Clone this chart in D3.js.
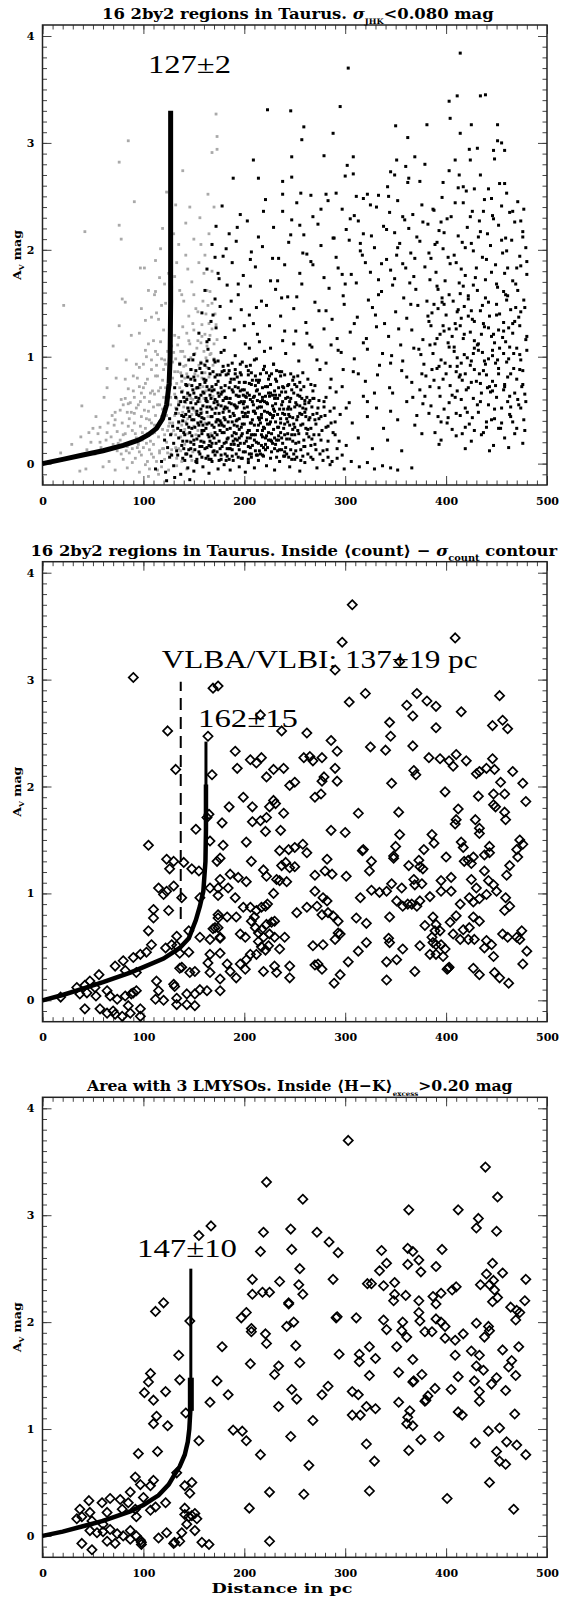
<!DOCTYPE html>
<html><head><meta charset="utf-8">
<script src="https://cdn.jsdelivr.net/npm/d3@7"></script>
<style>body{margin:0;background:#fff} svg{display:block} text{white-space:pre}</style>
</head><body>
<script>
// ---------------- DATA ----------------
const xTicks=[0,100,200,300,400,500];
const yTicks=[0,1,2,3,4];

// Panel 1 : stars closer than the fitted distance (grey) and beyond (black)
const panel1Gray=[[85,3.02],[76,2.82],[139,2.74],[123,2.54],[132,2.42],[91,2.45],[76,2.23],[78,2.10],[42,2.17],[117,2.01],[101,1.83],[97,1.83],[116,1.74],[121,1.68],[112,1.61],[111,1.58],[21,1.48],[79,1.54],[82,1.51],[102,1.34],[76,1.29],[108,1.37],[113,1.41],[118,1.48],[128,1.52],[102,1.06],[93,0.93],[83,0.97],[64,0.89],[73,0.80],[82,0.79],[78,0.60],[85,0.56],[61,0.62],[64,0.71],[39,0.54],[53,0.44],[69,0.45],[38,0.25],[29,0.18],[18,0.10],[46,0.29],[57,0.34],[37,-0.07],[43,-0.05],[84,0.16],[100,0.15],[172,3.27],[173,3.06],[168,2.91],[173,2.94],
[96,1.22],[105,1.12],[112,1.05],[118,0.98],[122,0.93],[128,1.1],[132,0.98],[135,1.18],[139,1.05],[142,0.92],[146,1.12],[150,1.25],[154,1.15],[158,1.3],[162,1.4],[166,1.2],[152,1.45],[145,1.38],[140,1.52],[136,1.62],[148,1.7],[155,1.88],[160,1.78],[142,1.95],[150,2.1],[156,2.3],[163,1.62],[168,1.5],[135,2.05],[131,1.75],[126,1.42],[120,1.25],[108,0.88],[114,0.82],[119,0.78],[102,0.75],[98,0.66],[91,0.62],[95,0.55],[88,0.48],[101,0.5],[106,0.58],[111,0.65],[116,0.55],[120,0.62],[124,0.72],[129,0.8],[133,0.75],[137,0.85],[141,0.8],[131,0.65],[135,0.58],[139,0.68],[143,0.62],[127,0.55],[112,0.45],[108,0.38],[103,0.42],[97,0.35],[92,0.28],[85,0.35],[79,0.38],[74,0.3],[68,0.25],[63,0.22],[70,0.18],[77,0.22],[82,0.28],[88,0.2],[94,0.15],[99,0.22],[104,0.28],[110,0.18],[115,0.25],[119,0.32],[123,0.2],[128,0.28],[126,0.38],[131,0.45],[135,0.38],[139,0.48],[132,0.15],[137,0.25],[141,0.32],[144,0.42],[146,0.52],[149,0.6],[152,0.7],[154,0.82],[157,0.95],[160,1.05],[163,0.9],[166,1.02],[170,1.12],[150,0.35],[152,0.48],[156,0.58],[159,0.72],[161,0.85],[86,0.1],[92,0.05],[98,0.08],[104,0.02],[110,0.06],[116,0.1],[121,0.04],[127,0.09],[80,0.04],[74,0.12],[66,0.02],[58,0.15],[52,0.09],[60,-0.03],[72,-0.06],[84,-0.04],[96,-0.08],[106,-0.05],[115,-0.1],[125,-0.06],[133,-0.02],[55,0.28],[48,0.2],[44,0.13],[65,0.38],[72,0.48],[80,0.55],[85,0.7],[90,0.82],[96,0.9],[103,1.0],[110,1.15],[115,1.35],[122,1.5],[128,1.65],[133,1.88],[142,2.25],[168,1.8],[170,2.4],[165,2.15],[172,1.3],[158,0.48],[161,0.38],[164,0.58],[167,0.7],
[86,0.42],[89,0.31],[93,0.52],[95,0.18],[98,0.44],[100,0.71],[102,0.33],[105,0.49],[107,0.21],[109,0.68],[111,0.36],[113,0.92],[114,0.55],[116,0.12],[117,0.71],[118,0.44],[120,0.88],[121,0.27],[123,0.61],[124,1.05],[125,0.35],[127,0.74],[128,0.13],[129,0.95],[130,0.31],[131,1.2],[132,0.52],[134,0.86],[135,0.14],[136,0.71],[137,1.05],[138,0.36],[140,0.91],[141,0.18],[142,0.57],[143,1.22],[144,0.28],[145,0.74],[147,0.99],[148,0.46],[149,0.11],[151,0.84],[153,1.08],[154,0.31],[156,0.71],[158,1.19],[159,0.21],[160,0.61],[162,0.99],[164,0.44],[165,1.31],[167,0.28],[169,0.92],[133,0.05],[138,0.02],[143,-0.05],[148,0.03],[118,-0.03],[124,0.1],[113,0.02],[106,0.13],[101,0.25],[96,0.72],[91,0.38],[84,0.48],[78,0.09],[71,0.36],[64,0.29],[57,0.2],[50,0.33],
[72,0.41],[75,0.19],[77,0.5],[80,0.27],[82,0.61],[83,0.12],[87,0.57],[89,0.14],[90,0.68],[91,0.47],[93,0.24],[94,0.8],[97,0.58],[99,0.29],[100,0.93],[101,0.62],[103,0.19],[104,0.79],[106,0.41],[107,0.66],[108,0.97],[109,0.28],[110,0.53],[112,0.82],[113,0.33],[114,1.02],[115,0.68],[116,0.39],[117,1.14],[119,0.51],[120,0.14],[121,0.97],[122,0.71],[123,0.45],[124,0.31],[125,0.84],[126,1.16],[127,0.62],[129,0.38],[130,1.04],[131,0.86],[132,0.27],[133,0.61],[134,1.11],[135,0.47],[136,0.94],[137,0.12],[138,0.77],[139,1.28],[140,0.53],[141,1.0],[142,0.39],[143,0.84],[144,0.65],[145,1.15],[146,0.21],[147,0.61],[148,0.88],[149,1.31],[150,0.5],[151,1.03],[152,0.27],[153,0.62],[154,1.42],[155,0.92],[156,0.44],[157,1.13],[158,0.8],[159,1.52],[160,0.93],[161,1.21],[162,0.68],[163,1.1],[164,1.48],[165,0.81],[166,1.61],[167,1.03],[168,1.26],[169,0.63],[170,0.98],[171,1.4],[172,0.74],[173,1.16],[96,0.11],[102,-0.01],[108,0.09],[114,-0.06],[119,0.14],[111,0.29],[89,0.01],[105,-0.12],
[105,1.62],[112,1.9],[125,1.78],[130,2.15],[138,1.58],[144,1.82],[150,1.58],[157,2.05],[161,1.95],[164,2.52],[146,2.4],[119,2.2],[98,1.45],[88,1.2],[70,1.1]];

const panel1Black=[[414,3.84],[303,3.70],[295,3.34],[223,3.31],[246,3.30],[403,3.39],[411,3.44],[434,3.44],[439,3.45],[350,3.16],[259,3.15],[381,3.17],[404,3.23],[425,3.17],[451,3.17],[288,3.09],[414,3.09],[362,3.05],[257,3.03],[451,3.02],[455,3.00],[458,2.93],[447,2.93],[423,2.94],[431,2.95],[409,2.84],[424,2.84],[448,2.85],[209,2.84],[247,2.87],[279,2.88],[308,2.87],[302,2.79],[351,2.84],[369,2.87],[379,2.80],[345,2.73],[349,2.70],[360,2.78],[363,2.67],[374,2.64],[403,2.74],[413,2.70],[434,2.70],[412,2.58],[417,2.59],[453,2.62],[458,2.62],[189,2.67],[214,2.67],[238,2.64],[247,2.68],[300,2.69],[308,2.71],[397,2.63],[342,2.59],[362,2.63],[420,2.55],[428,2.57],[442,2.57],[460,2.53],[238,2.52],[256,2.53],[266,2.51],[281,2.52],[291,2.53],[311,2.50],[322,2.52],[333,2.51],[343,2.50],
[178,2.41],[196,2.33],[221,2.47],[238,2.36],[252,2.44],[268,2.31],[283,2.46],[297,2.38],[309,2.32],[318,2.48],[331,2.40],[344,2.35],[352,2.46],[367,2.33],[376,2.42],[388,2.37],[396,2.49],[405,2.31],[417,2.44],[426,2.36],[438,2.47],[446,2.32],[455,2.41],[463,2.35],[471,2.45],[477,2.38],
[172,2.22],[185,2.15],[203,2.27],[214,2.12],[229,2.21],[247,2.28],[259,2.14],[273,2.24],[288,2.11],[301,2.19],[313,2.27],[326,2.13],[338,2.22],[349,2.16],[359,2.28],[371,2.12],[382,2.24],[393,2.18],[401,2.29],[412,2.13],[421,2.21],[433,2.27],[441,2.15],[452,2.23],[459,2.11],[468,2.26],[476,2.17],[363,2.20],[318,2.15],[432,2.12],[395,2.26],[447,2.29],
[168,2.05],[179,1.94],[192,2.08],[207,1.98],[218,2.03],[234,1.92],[244,2.07],[262,1.96],[276,2.04],[291,1.93],[304,2.09],[315,1.99],[329,2.02],[341,1.91],[354,2.06],[365,1.97],[374,2.08],[385,1.92],[397,2.01],[408,1.95],[416,2.07],[427,1.99],[436,1.93],[444,2.04],[456,1.97],[465,2.09],[473,1.94],[479,2.02],[389,2.05],[351,1.95],[402,1.93],[425,2.06],[460,1.99],
[163,1.82],[175,1.73],[188,1.88],[199,1.76],[211,1.84],[226,1.71],[240,1.86],[255,1.78],[266,1.89],[279,1.74],[293,1.83],[306,1.77],[320,1.88],[333,1.72],[345,1.81],[357,1.87],[368,1.75],[379,1.84],[390,1.79],[399,1.71],[410,1.88],[419,1.76],[430,1.83],[439,1.72],[449,1.86],[458,1.78],[466,1.71],[474,1.85],[480,1.77],[384,1.72],[415,1.82],[445,1.79],[470,1.83],[325,1.79],
[161,1.62],[171,1.54],[183,1.67],[194,1.58],[206,1.66],[217,1.52],[231,1.63],[243,1.56],[257,1.68],[270,1.51],[284,1.64],[298,1.57],[311,1.69],[323,1.53],[336,1.61],[347,1.67],[358,1.55],[370,1.63],[381,1.52],[391,1.66],[403,1.58],[413,1.69],[422,1.54],[431,1.62],[442,1.51],[451,1.65],[461,1.57],[469,1.68],[477,1.53],[396,1.55],[427,1.67],[457,1.61],[364,1.69],[407,1.52],
[158,1.41],[167,1.33],[176,1.47],[186,1.36],[197,1.44],[209,1.31],[222,1.48],[236,1.38],[249,1.45],[261,1.32],[274,1.43],[287,1.35],[299,1.49],[312,1.37],[327,1.46],[339,1.31],[350,1.42],[361,1.36],[372,1.48],[383,1.33],[392,1.45],[400,1.39],[409,1.31],[418,1.47],[426,1.35],[434,1.43],[443,1.38],[450,1.49],[457,1.32],[464,1.44],[472,1.37],[478,1.46],[386,1.41],[411,1.42],[437,1.31],[453,1.40],[468,1.33],[398,1.49],[422,1.38],
[155,1.22],[163,1.14],[172,1.27],[181,1.18],[190,1.25],[201,1.12],[213,1.21],[225,1.29],[238,1.15],[251,1.24],[265,1.11],[279,1.26],[292,1.17],[305,1.23],[318,1.13],[331,1.28],[343,1.19],[355,1.11],[366,1.25],[377,1.16],[385,1.29],[394,1.21],[402,1.13],[410,1.26],[417,1.17],[424,1.23],[431,1.11],[438,1.28],[445,1.19],[452,1.25],[459,1.14],[466,1.22],[473,1.29],[479,1.16],[389,1.12],[406,1.19],[428,1.15],[448,1.13],[462,1.27],[414,1.29],[398,1.24],[435,1.21],
[150,1.02],[157,0.94],[164,1.07],[170,0.97],[177,1.04],[184,0.92],[191,1.01],[198,0.95],[205,1.08],[212,0.98],[220,1.05],[229,0.93],[241,1.03],[254,0.96],[267,1.09],[281,0.94],[296,1.04],[309,0.98],[322,1.07],[334,0.92],[346,1.01],[357,0.96],[368,1.08],[378,0.93],[387,1.03],[395,0.97],[403,1.09],[411,0.91],[418,1.02],[425,0.96],[432,1.06],[439,0.93],[446,1.01],[453,1.08],[460,0.95],[467,1.03],[474,0.97],[480,1.06],[393,0.91],[408,1.05],[421,0.99],[436,1.04],[449,0.94],[463,1.09],[415,0.94],[428,1.08],[442,0.98],[457,1.03],
[138,0.82],[142,0.74],[147,0.88],[151,0.78],[154,0.71],[158,0.85],[161,0.76],[165,0.89],[168,0.72],[171,0.81],[174,0.77],[178,0.86],[181,0.73],[184,0.84],[187,0.79],[191,0.88],[194,0.71],[197,0.83],[200,0.76],[204,0.87],[207,0.74],[211,0.82],[215,0.78],[219,0.88],[223,0.72],[227,0.84],[232,0.77],[237,0.86],[243,0.73],[249,0.81],
[258,0.85],[266,0.74],[275,0.88],[286,0.79],[297,0.72],[308,0.86],[320,0.77],[332,0.83],[344,0.71],[356,0.87],[366,0.76],[376,0.84],[384,0.72],[391,0.89],[397,0.79],[404,0.73],[410,0.86],[416,0.78],[422,0.71],[428,0.88],[434,0.75],[440,0.83],[446,0.77],[452,0.89],[458,0.72],[464,0.84],[470,0.79],[476,0.74],[400,0.84],[413,0.81],[425,0.76],[437,0.87],[449,0.73],[461,0.81],[473,0.88],[388,0.78],[419,0.84],[443,0.72],
[132,0.62],[135,0.55],[138,0.67],[141,0.58],[144,0.52],[146,0.64],[149,0.69],[152,0.56],[155,0.61],[157,0.51],[160,0.66],[163,0.58],[166,0.53],[168,0.68],[171,0.6],[174,0.55],[177,0.65],[180,0.51],[182,0.62],[185,0.57],[188,0.69],[191,0.54],[194,0.63],[197,0.58],[200,0.52],[203,0.66],[206,0.6],[209,0.55],[212,0.68],[215,0.53],[218,0.62],[222,0.57],[226,0.66],[229,0.51],[233,0.61],[237,0.55],[241,0.67],[245,0.58],[250,0.53],[255,0.63],[260,0.56],[143,0.6],[162,0.61],[179,0.59],[196,0.68],[213,0.59],[231,0.64],
[268,0.61],[279,0.53],[291,0.67],[304,0.57],[318,0.63],[331,0.52],[347,0.66],[361,0.58],[374,0.69],[385,0.54],[394,0.63],[403,0.57],[411,0.68],[419,0.52],[427,0.61],[435,0.66],[442,0.55],[450,0.62],[457,0.69],[464,0.53],[471,0.6],[478,0.65],[398,0.51],[415,0.6],[431,0.55],[446,0.68],[461,0.58],[474,0.52],
[126,0.42],[129,0.35],[132,0.47],[135,0.39],[137,0.31],[140,0.44],[143,0.37],[145,0.49],[148,0.33],[150,0.41],[153,0.46],[155,0.36],[158,0.43],[160,0.31],[163,0.48],[165,0.38],[168,0.44],[170,0.34],[173,0.41],[175,0.47],[178,0.36],[180,0.43],[183,0.32],[185,0.49],[188,0.39],[190,0.45],[193,0.35],[195,0.42],[198,0.48],[200,0.37],[203,0.44],[205,0.31],[208,0.41],[211,0.47],[214,0.36],[217,0.43],[220,0.33],[223,0.48],[226,0.39],[229,0.45],[233,0.34],[236,0.42],[240,0.37],[244,0.46],[248,0.32],[252,0.41],[256,0.36],[261,0.44],[266,0.33],[139,0.4],[157,0.39],[176,0.4],[192,0.4],[207,0.38],[222,0.41],[238,0.47],
[274,0.42],[283,0.35],[295,0.46],[307,0.38],[322,0.44],[338,0.33],[352,0.41],[369,0.36],[383,0.47],[395,0.39],[406,0.32],[414,0.45],[423,0.37],[432,0.48],[440,0.34],[448,0.42],[455,0.38],[463,0.46],[470,0.33],[477,0.41],[402,0.43],[428,0.31],[452,0.33],[466,0.39],
[121,0.22],[124,0.15],[127,0.27],[130,0.19],[133,0.12],[135,0.24],[138,0.17],[140,0.29],[143,0.21],[145,0.13],[148,0.26],[150,0.18],[153,0.23],[155,0.11],[158,0.28],[160,0.2],[163,0.15],[165,0.25],[168,0.19],[170,0.12],[173,0.27],[175,0.21],[178,0.16],[180,0.29],[183,0.23],[185,0.14],[188,0.26],[190,0.18],[193,0.22],[195,0.13],[198,0.28],[200,0.19],[203,0.24],[206,0.15],[209,0.27],[212,0.2],[215,0.12],[218,0.25],[221,0.18],[224,0.29],[227,0.21],[230,0.14],[234,0.26],[238,0.19],[242,0.23],[246,0.13],[250,0.27],[254,0.2],[259,0.16],[264,0.25],[270,0.18],[276,0.22],[282,0.13],[147,0.2],[166,0.21],[182,0.2],[201,0.11],[217,0.17],[232,0.22],
[290,0.27],[301,0.17],[313,0.24],[327,0.14],[342,0.22],[356,0.12],[376,0.28],[393,0.18],[410,0.26],[425,0.21],[437,0.29],[447,0.17],[458,0.24],[468,0.28],[476,0.19],[419,0.14],[443,0.12],[462,0.15],
[112,-0.05],[118,0.02],[122,-0.08],[126,0.06],[130,-0.02],[134,0.08],[137,-0.1],[141,0.03],[144,-0.04],[147,0.07],[150,-0.07],[153,0.01],[156,0.09],[159,-0.03],[162,0.05],[165,-0.09],[168,0.02],[171,0.08],[174,-0.05],[177,0.04],[180,-0.01],[183,0.07],[186,-0.06],[189,0.03],[192,0.09],[195,-0.03],[198,0.05],[201,-0.08],[204,0.01],[207,0.06],[210,-0.04],[214,0.03],[218,0.08],[222,-0.02],[226,0.05],[230,-0.06],[235,0.02],[240,0.07],[245,-0.03],[250,0.04],[255,-0.07],[260,0.01],[266,0.06],[272,-0.04],[278,0.03],[285,-0.01],[292,0.05],[299,-0.05],[306,0.02],[314,-0.03],[322,0.01],[329,-0.05],[337,-0.02],[345,-0.04],[352,-0.06],[366,-0.04],[131,-0.13],[146,-0.15],[123,-0.16],
[131,0.71],[136,0.93],[139,0.05],[142,0.46],[144,0.81],[146,0.29],[149,0.97],[151,0.13],[152,0.62],[154,0.38],[156,0.74],[157,0.21],[159,0.54],[161,0.92],[162,0.33],[164,0.07],[165,0.69],[167,0.44],[169,0.86],[170,0.24],[172,0.52],[173,0.11],[174,0.96],[176,0.31],[177,0.71],[179,0.48],[181,0.09],[182,0.83],[184,0.39],[186,0.61],[187,0.18],[188,0.94],[190,0.29],[191,0.72],[193,0.53],[194,0.06],[196,0.85],[197,0.34],[199,0.64],[201,0.47],[202,0.91],[204,0.16],[205,0.75],[207,0.27],[208,0.58],[210,0.97],[211,0.12],[213,0.69],[214,0.43],[216,0.84],[218,0.31],[219,0.07],[221,0.63],[223,0.37],[224,0.79],[226,0.22],[228,0.54],[229,0.93],[231,0.39],[233,0.12],[234,0.71],[236,0.29],[238,0.58],[240,0.83],[241,0.15],[243,0.51],[245,0.36],[247,0.69],[249,0.09],[251,0.57],[253,0.31],[255,0.76],[257,0.46],[259,0.22],[262,0.62],[264,0.41],[267,0.53],[269,0.27],[272,0.47],[275,0.09],
[134,0.33],[137,0.58],[140,0.14],[143,0.73],[145,0.97],[148,0.41],[150,0.66],[153,0.04],[155,0.45],[158,0.16],[160,0.79],[163,0.37],[166,0.64],[168,0.26],[171,0.95],[173,0.58],[175,0.03],[178,0.67],[180,0.35],[183,0.52],[185,0.87],[188,0.13],[190,0.55],[192,0.28],[195,0.76],[197,0.05],[199,0.44],[202,0.62],[204,0.83],[206,0.24],[209,0.49],[211,0.73],[213,0.08],[216,0.38],[218,0.59],[220,0.91],[223,0.15],[225,0.47],[227,0.28],[230,0.68],[232,0.87],[235,0.51],[237,0.24],[239,0.71],[242,0.42],[244,0.06],[246,0.61],[248,0.78],[251,0.19],[253,0.44],[256,0.69],[258,0.07],[261,0.33],[263,0.79],[266,0.17],[268,0.68],[271,0.37],[274,0.59],[277,0.31],[280,0.45],[283,0.06],[286,0.38],[289,0.52],[292,0.14],
[128,0.08],[133,0.51],[147,0.57],[152,0.87],[157,0.64],[163,0.72],[167,0.04],[172,0.39],[176,0.83],[181,0.61],[186,0.44],[189,0.67],[193,0.81],[196,0.19],[200,0.58],[203,0.29],[206,0.92],[210,0.36],[214,0.76],[217,0.53],[221,0.24],[224,0.66],[228,0.43],[231,0.18],[236,0.82],[239,0.33],[243,0.62],[247,0.27],[252,0.72],[256,0.13],[260,0.48],[265,0.59],[270,0.73],[281,0.62],[288,0.29],
[141,0.27],[143,0.09],[144,0.66],[146,0.44],[147,0.14],[149,0.52],[150,0.81],[151,0.34],[152,0.02],[154,0.58],[155,0.26],[156,0.89],[157,0.47],[158,0.06],[159,0.67],[160,0.42],[161,0.14],[162,0.78],[163,0.53],[164,0.27],[165,0.04],[166,0.84],[167,0.61],[168,0.36],[169,0.11],[170,0.69],[171,0.47],[172,0.19],[173,0.83],[174,0.41],[175,0.63],[176,0.14],[177,0.54],[178,0.29],[179,0.91],[180,0.68],[181,0.41],[182,0.03],[183,0.61],[184,0.24],[185,0.71],[186,0.33],[187,0.56],[188,0.07],[189,0.47],[190,0.79],[191,0.23],[192,0.64],[193,0.41],[194,0.17],[195,0.57],[196,0.93],[197,0.26],[198,0.69],[199,0.11],[200,0.44],[201,0.76],[202,0.21],[203,0.53],[204,0.04],[205,0.64],[206,0.38],[207,0.85],[208,0.17],[209,0.62],[210,0.49],[211,0.27],[212,0.78],[213,0.52],[214,0.19],[215,0.65],[216,0.09],[217,0.46],[218,0.71],[219,0.34],[220,0.58],[221,0.13],[222,0.85],[223,0.56],[224,0.22],[225,0.37],[226,0.74],[227,0.11],[228,0.64],[229,0.32],[230,0.49],[231,0.79],[232,0.06],[233,0.46],[234,0.22],[235,0.64],[236,0.38],[237,0.13],[238,0.72],[239,0.51],[240,0.27],[241,0.61],[242,0.09],[243,0.39],[244,0.74],[245,0.23],[246,0.51],[247,0.04],[248,0.43],[249,0.66],[250,0.34],[251,0.12],[252,0.55],[253,0.82],[254,0.28],[255,0.47],[256,0.03],[257,0.61],[258,0.37],[259,0.72],[260,0.16],[261,0.51],[262,0.28],[263,0.09],[264,0.57],[265,0.43],[267,0.23],[268,0.04],[269,0.61],[270,0.41],[271,0.13],[273,0.52],[274,0.27],[276,0.44],[278,0.12],[279,0.58],[281,0.34],[283,0.21],[285,0.49],[287,0.02],[290,0.39],[294,0.21],[297,0.08],
[148,0.73],[153,0.49],[158,0.31],[163,0.96],[167,0.16],[172,0.74],[177,0.08],[181,0.53],[186,0.14],[191,0.84],[195,0.32],[199,0.56],[204,0.31],[208,0.78],[212,0.08],[217,0.27],[221,0.72],[226,0.46],[230,0.24],[235,0.86],[239,0.07],[244,0.53],[248,0.21],[253,0.64],[258,0.52],[263,0.32],[268,0.46],[175,0.36],[185,0.04],[195,0.63],[205,0.09],[215,0.41],[225,0.82],[235,0.13],[245,0.44],[170,0.57],[180,0.19],[190,0.36],[200,0.69],[210,0.22],[220,0.49],[230,0.61],[240,0.46],[250,0.74],[260,0.59],
[138,0.45],[139,0.21],[140,0.62],[142,0.09],[145,0.34],[147,0.79],[150,0.22],[153,0.71],[156,0.16],[159,0.36],[162,0.59],[165,0.17],[168,0.51],[171,0.29],[174,0.66],[177,0.38],[180,0.87],[183,0.14],[186,0.76],[189,0.21],[192,0.52],[195,0.24],[198,0.37],[201,0.63],[204,0.48],[207,0.09],[210,0.63],[213,0.31],[216,0.58],[219,0.15],[222,0.26],[225,0.63],[228,0.19],[231,0.56],[234,0.34],[237,0.67],[240,0.11],[243,0.28],[246,0.84],[249,0.37],[252,0.06],[255,0.54],
[371,0.45],[375,1.02],[379,0.63],[382,1.38],[386,0.88],[389,0.29],[391,1.17],[393,0.71],[396,1.51],[399,0.94],[401,0.38],[403,1.26],[406,0.64],[408,1.09],[410,0.47],[412,1.44],[414,0.83],[416,0.28],[418,1.21],[420,0.69],[422,1.57],[424,0.92],[426,0.43],[428,1.33],[430,0.77],[432,1.12],[434,0.58],[436,1.48],[438,0.96],[440,0.39],[442,1.27],[444,0.67],[446,1.06],[448,0.51],[450,1.39],[452,0.84],[454,0.33],[456,1.18],[458,0.74],[460,1.53],[462,0.98],[464,0.44],[466,1.31],[468,0.66],[470,1.08],[472,0.55],[474,1.42],[476,0.87],[478,0.31],[480,1.19],
[377,0.56],[384,1.11],[392,0.44],[397,1.29],[404,0.91],[409,0.62],[415,1.36],[421,0.48],[427,1.03],[433,0.84],[439,1.55],[445,0.41],[451,0.97],[457,1.24],[463,0.63],[469,1.46],[475,0.72],[380,0.82],[395,0.22],[411,0.99],[425,1.43],[441,0.71],[455,0.52],[467,0.89],[479,0.58],[388,1.49],[419,0.34],[447,1.21],[473,1.02],[435,0.27],
[262,1.22],[268,1.86],[272,0.97],[276,2.38],[281,1.43],[285,0.71],[289,2.11],[293,1.06],[297,1.77],[301,0.52],[305,2.29],[309,1.31],[313,0.84],[317,1.95],[321,1.17],[325,2.42],[329,0.66],[333,1.58],[337,1.03],[341,2.19],[345,0.49],[349,1.73],[353,1.26],[357,2.31],[361,0.81],[365,1.49],[369,1.92],[373,1.07],[377,2.26],[300,1.68],[315,2.06],[330,1.39],[345,0.94],[360,1.83],[286,1.11],[322,0.58],[352,2.02],[367,0.62],[298,0.88],[336,1.87],
[383,1.97],[387,2.38],[392,1.63],[398,2.16],[404,1.87],[409,2.44],[414,1.59],[419,2.02],[424,2.31],[429,1.74],[434,2.17],[440,1.91],[445,2.48],[450,1.68],[455,2.09],[461,1.83],[466,2.36],[471,1.62],[476,2.12],[480,1.89],[391,2.07],[417,1.66],[437,2.36],[459,1.58],[474,2.27],
[165,1.16],[169,1.39],[174,1.78],[180,1.06],[187,1.52],[193,2.21],[200,1.29],[206,1.91],[212,1.46],[219,2.36],[226,1.08],[233,1.71],[240,1.24],[246,2.14],[252,1.56],[258,1.97],[182,2.01],[205,1.39],[228,1.92],[249,1.12],[171,1.93],[194,1.68],[215,1.14],[237,1.55],[255,2.23]];

// Panel 2 : stars inside the <count> - sigma contour
const panel2Pts=[[307,3.70],[297,3.35],[409,3.39],[290,3.09],[354,3.17],[90,3.02],[169,2.92],[174,2.94],[304,2.79],[320,2.87],[371,2.87],[361,2.76],[381,2.80],[390,2.75],[453,2.85],[367,2.66],[415,2.70],[216,2.67],[124,2.52],[164,2.47],[237,2.52],[262,2.50],[344,2.60],[390,2.55],[446,2.57],[456,2.62],[461,2.54],[286,2.43],[345,2.47],[191,2.33],[206,2.25],[212,2.22],[217,2.27],[193,2.17],[222,2.09],[229,2.16],[239,2.17],[245,2.01],[250,2.04],[259,2.27],[265,2.28],[268,2.24],[277,2.27],[292,2.33],[290,2.17],[292,2.05],[277,2.05],[279,2.09],[325,2.37],[340,2.34],[367,2.38],[346,2.03],[368,2.15],[370,2.11],[383,2.27],[394,2.26],[403,2.24],[407,2.19],[410,2.30],[420,2.24],[430,2.12],[433,2.14],[440,2.17],[446,2.26],[448,2.16],[466,2.14],[454,2.04],[476,2.03],[399,1.95],[432,1.91],[447,1.93],[458,1.93],[199,1.90],[229,1.87],[270,1.90],[276,1.93],[132,2.16],[168,2.11],
[185,1.81],[208,1.81],[225,1.81],[231,1.84],[239,1.75],[165,1.74],[178,1.66],[208,1.67],[216,1.68],[222,1.71],[221,1.58],[236,1.59],[152,1.60],[313,1.75],[353,1.76],[412,1.79],[409,1.65],[410,1.69],[429,1.69],[433,1.61],[433,1.56],[447,1.83],[449,1.81],[458,1.76],[459,1.69],[479,1.86],[286,1.59],[300,1.57],[354,1.55],[386,1.55],[388,1.47],[350,1.44],[378,1.41],[348,1.33],[415,1.48],[417,1.43],[400,1.34],[418,1.30],[422,1.31],[425,1.28],[427,1.34],[438,1.36],[443,1.44],[443,1.38],[473,1.50],[476,1.46],[470,1.41],[471,1.34],[463,1.26],[460,1.17],[438,1.21],[425,1.13],[430,1.05],[442,1.12],[447,1.08],[450,1.02],[459,0.96],[463,0.88],[458,0.84],[440,0.99],[433,0.95],[423,0.96],[427,0.92],[414,0.90],[405,1.15],[395,1.12],[405,1.02],[395,1.02],[384,0.97],[376,1.09],[369,1.08],[368,1.13],[374,1.25],[377,1.23],[363,1.26],[373,1.31],[356,1.05],[346,1.09],[341,1.02],[334,1.01],[326,1.03],[351,0.93],[357,0.88],[362,0.90],[366,0.90],[371,0.88],[374,0.93],[344,0.78],[387,0.78],[390,0.71],[389,0.65],[394,0.65],[404,0.73],[410,0.79],[379,0.70],[427,0.78],[433,0.74],[417,0.66],[423,0.68],[428,0.57],[422,0.57],[407,0.62],[414,0.57],[386,0.59],[387,0.54],[390,0.52],[395,0.52],[399,0.48],[374,0.51],[384,0.43],[390,0.43],[397,0.41],[440,0.56],[445,0.52],[447,0.41],[438,0.49],[456,0.62],[461,0.59],[470,0.59],[473,0.57],[475,0.65],[480,0.46],[476,0.34],[427,0.30],[433,0.24],[448,0.26],[453,0.21],[462,0.16],[402,0.30],[403,0.31],[401,0.29],[369,0.27],[341,0.19],[341,0.36],[351,0.38],[357,0.48],[343,0.58],[344,0.54],[321,0.54],[313,0.46],[321,0.72],[311,0.77],[315,0.96],[324,1.21],[326,1.30],[317,1.40],[318,1.41],[348,1.35],[301,1.16],[287,1.18],[280,1.21],[270,1.17],[282,1.32],[262,1.38],[258,1.46],[250,1.43],[244,1.41],[235,1.40],[270,1.02],[278,0.96],[282,0.93],[272,0.88],[277,0.80],[262,0.87],[252,0.82],[283,0.82],[288,0.79],[293,0.74],[293,0.63],[295,0.62],[290,0.57],[268,0.51],[278,0.52],[273,0.34],[277,0.29],[270,0.33],[289,0.16],[295,0.24],[303,0.36],[241,1.29],[245,1.24],[250,1.25],[237,1.26],[242,1.11],[235,1.12],[232,1.13],[222,1.16],[219,1.22],[202,1.11],[207,1.30],[229,1.00],[221,0.88],[223,0.90],[217,0.87],[212,0.84],[206,0.87],[199,0.87],[210,0.78],[207,0.74],[211,0.68],[214,0.63],[217,0.66],[222,0.71],[227,0.73],[230,0.74],[225,0.62],[230,0.59],[219,0.59],[214,0.55],[224,0.51],[217,0.50],[221,0.47],[212,0.43],[196,0.62],[201,0.59],[192,0.78],[183,0.78],[174,0.80],[174,0.68],[176,0.59],[169,0.67],[240,0.59],[235,0.48],[206,0.43],[202,0.38],[196,0.34],[201,0.29],[192,0.21],[186,0.27],[183,0.34],[176,0.20],[176,0.44],[219,0.27],[230,0.32],[232,0.26],[245,0.32],[245,0.21],[166,0.43],[164,0.35],[166,0.26],[176,0.09],[163,0.09],[156,0.10],[151,0.06],[143,0.06],[133,0.02],[146,0.26],[151,0.27],[136,0.30],[130,0.15],[120,0.00],[97,-0.08],[90,0.07],[113,0.18],[115,0.09],[112,0.01],[145,0.45],[133,0.51],[128,0.52],[122,0.49],[108,0.52],[103,0.45],[97,0.43],[90,0.40],[145,0.65],[156,0.59],[166,0.57],[176,0.58],[171,0.68],[174,0.77],[133,0.60],[105,0.65],[110,0.77],[110,0.85],[125,0.84],[138,0.96],[120,0.99],[123,1.02],[115,1.05],[130,1.07],[123,1.32],[126,1.23],[130,1.30],[140,1.29],[148,1.23],[155,1.21],[105,1.45],[156,0.96],[166,1.05],[174,1.05],[173,1.30],[176,1.33],[166,1.49],[179,1.45],[163,1.71],[174,0.98],[176,1.13],[184,1.05],[186,1.18],[194,1.15],[191,0.96],[202,1.48],
[80,0.37],[72,0.32],[82,0.28],[93,0.26],[56,0.24],[47,0.18],[52,0.12],[42,0.14],[34,0.12],[37,0.06],[44,0.07],[18,0.03],[42,-0.08],[53,0.04],[64,0.09],[67,0.04],[74,0.01],[82,0.04],[88,0.06],[93,0.09],[57,-0.08],[64,-0.12],[70,-0.10],[72,-0.13],[79,-0.15],[87,-0.12],[97,-0.15],[85,-0.05],[133,-0.04],[143,-0.04],[151,-0.05],[131,0.13],[138,0.31],[136,0.44]];

// Panel 3 : area with 3 LMYSOs
const panel3Pts=[[303,3.70],[439,3.45],[222,3.31],[258,3.15],[451,3.17],[363,3.05],[412,3.05],[432,2.97],[430,2.88],[450,2.85],[167,2.90],[155,2.81],[219,2.84],[246,2.87],[272,2.84],[284,2.75],[293,2.65],[216,2.66],[247,2.68],[336,2.67],[362,2.69],[367,2.66],[396,2.68],[373,2.58],[341,2.55],[334,2.48],[362,2.54],[390,2.52],[375,2.47],[255,2.50],[446,2.55],[440,2.45],[456,2.46],[447,2.39],[443,2.35],[434,2.35],[479,2.40],[208,2.40],[208,2.26],[218,2.28],[225,2.28],[235,2.38],[254,2.35],[258,2.26],[288,2.40],[322,2.36],[326,2.36],[338,2.34],[349,2.37],[349,2.26],[348,2.20],[360,2.25],[373,2.20],[387,2.24],[395,2.27],[390,2.17],[406,2.30],[410,2.33],[448,2.30],[451,2.23],[446,2.19],[478,2.20],[464,2.14],[470,2.11],[473,2.09],[469,2.02],[120,2.18],[112,2.10],[146,2.01],[202,2.09],[197,2.04],[244,2.18],[244,2.17],[291,2.04],[292,2.05],[311,2.04],[338,2.02],[357,2.00],[373,2.09],[374,2.01],[390,2.03],[395,2.00],[399,1.96],[430,1.99],[442,1.96],[443,1.92],[242,1.96],[249,2.00],[207,1.94],[207,1.91],[221,1.89],[341,1.93],[356,1.92],[361,1.86],[379,1.91],[386,1.91],[399,1.85],[409,1.83],[417,1.89],[438,1.86],
[178,1.77],[206,1.61],[222,1.80],[251,1.78],[255,1.62],[234,1.59],[230,1.51],[294,1.70],[314,1.70],[314,1.63],[324,1.77],[330,1.66],[351,1.77],[324,1.50],[353,1.53],[367,1.65],[367,1.44],[368,1.45],[376,1.51],[409,1.69],[425,1.73],[433,1.69],[430,1.59],[437,1.55],[428,1.45],[433,1.35],[433,1.26],[456,1.74],[465,1.64],[472,1.77],[469,1.50],[462,1.58],[450,1.48],[445,1.42],[459,1.36],[412,1.49],[405,1.37],[389,1.38],[382,1.31],[379,1.26],[380,1.27],[412,1.16],[416,1.13],[468,1.14],[353,1.25],[364,1.17],[362,1.11],[361,1.05],[367,1.03],[307,1.35],[313,1.32],[283,1.40],[277,1.32],[247,1.37],[252,1.28],[234,1.21],[307,1.13],[315,1.13],[321,1.21],[330,1.19],[268,1.08],[184,1.32],[173,1.45],[166,1.25],[189,0.99],[198,0.98],[202,0.89],[155,0.89],[216,0.76],[246,0.93],[264,0.66],[321,0.86],[329,0.70],[375,0.90],[363,0.80],[393,0.93],[429,0.87],[442,0.98],[453,1.01],[460,0.88],[470,0.85],[450,0.79],[453,0.70],[459,0.67],[479,0.76],[443,0.50],[324,0.42],[401,0.35],[467,0.25],[225,0.41],[259,0.39],[205,0.26],[225,-0.05],[135,1.69],[136,1.46],[107,1.52],[105,1.44],[101,1.34],[110,1.27],[122,1.35],[113,1.12],[110,1.05],[124,1.03],[142,1.15],[95,0.77],[114,0.79],[92,0.55],[97,0.48],[87,0.41],[110,0.52],[107,0.47],[100,0.36],[133,0.59],[141,0.47],[148,0.50],[146,0.40],[122,0.31],[112,0.27],[107,0.24],[93,0.18],[141,0.26],[145,0.18],[151,0.21],[153,0.16],[143,0.11],[151,0.05],[138,0.03],[131,-0.06],[123,0.03],[115,-0.02],[158,-0.06],[165,-0.08],[97,-0.04],[98,-0.06],[98,-0.08],[87,-0.03],
[92,0.25],[77,0.34],[79,0.25],[85,0.31],[67,0.35],[59,0.31],[64,0.22],[46,0.33],[37,0.25],[47,0.22],[34,0.16],[39,0.18],[49,0.14],[47,0.05],[54,0.03],[60,0.11],[60,0.04],[67,0.06],[74,0.02],[80,0.00],[87,0.05],[93,0.00],[39,-0.07],[49,-0.13],[64,-0.05],[72,-0.07],[130,-0.07],[136,-0.05],[141,0.20],[148,0.19]];

// fitted extinction-jump models (distance, A_V)
const curve1=[[0,0],[20,0.04],[40,0.08],[60,0.12],[80,0.17],[95,0.22],[105,0.27],[113,0.33],[119,0.42],[123,0.55],[125.5,0.75],[126.5,1.0],[127,1.5],[127,3.3]];
const curve2=[[0,0],[20,0.05],[40,0.11],[60,0.17],[87,0.26],[100,0.31],[120,0.39],[136,0.49],[145,0.58],[152,0.75],[156,0.88],[159.4,1.02],[161.5,1.3],[162,1.6],[162,2.02]];
const curve2Top=[[162,2.0],[162,2.42]];
const curve3=[[0,0],[20,0.04],[40,0.09],[60,0.14],[87,0.23],[100,0.29],[115,0.38],[125,0.48],[130,0.56],[136,0.65],[141,0.76],[144,0.88],[145.5,1.0],[146.5,1.17],[147,1.25]];
const curve3Bar=[[147,1.17],[147,1.48]];
const curve3Top=[[147,1.45],[147,2.5]];
const vlbaLine=[[137,0.76],[137,2.98]];

const titles=["16 2by2 regions in Taurus. ","16 2by2 regions in Taurus. Inside \u27E8count\u27E9 \u2212 ","Area with 3 LMYSOs. Inside \u27E8H\u2212K\u27E9"];
const labels=["127\u00B12","162\u00B115","VLBA/VLBI: 137\u00B119 pc","147\u00B110"];

// ---------------- DRAWING ----------------
const W=567,H=1600;
const svg=d3.select("body").append("svg").attr("width",W).attr("height",H);
const x=d3.scaleLinear().domain([0,500]).range([42.5,547]);
const tops=[25,561.7,1097.3];
const PH=460;
const yS=tops.map(t=>d3.scaleLinear().domain([-0.2,4.103]).range([t+PH,t]));
const SERIF="DejaVu Serif";
const xMinor=d3.range(0,501,10);
const yMinor=d3.range(-1,41).map(v=>v/10);

function rich(g,parts,size,family,weight){
  const t=g.append("text").attr("font-family",family).attr("font-size",size).attr("font-weight",weight).attr("fill","#000");
  let shift=0;
  parts.forEach(p=>{
    const ts=t.append("tspan").text(p.t);
    const want=p.sub?size*0.32:0;
    if(want!==shift){ts.attr("dy",want-shift);shift=want;}
    if(p.sub) ts.attr("font-size",size*(p.ss||0.6));
    if(p.it) ts.attr("font-style","italic");
  });
  return t;
}
function fit(t,x0,y0,target,anchor,kForce){
  const w=t.node().getComputedTextLength();
  const k=kForce||(target/w);
  const left=anchor==="middle"?x0-w*k/2:x0;
  t.attr("x",0).attr("y",0).attr("transform",`translate(${left},${y0}) scale(${k},1)`);
  return k;
}

function panel(i){
  const y=yS[i], top=tops[i], bot=top+PH;
  const g=svg.append("g");
  const tk=(sel)=>sel.call(s=>s.select(".domain").remove()).call(s=>s.selectAll("line").attr("stroke","#444").attr("stroke-width",1));
  g.append("g").attr("transform",`translate(0,${bot})`).call(d3.axisBottom(x).tickValues(xMinor).tickSize(-4.5).tickFormat("")).call(tk);
  g.append("g").attr("transform",`translate(0,${top})`).call(d3.axisTop(x).tickValues(xMinor).tickSize(-4.5).tickFormat("")).call(tk);
  g.append("g").attr("transform",`translate(${x(0)},0)`).call(d3.axisLeft(y).tickValues(yMinor).tickSize(-4.5).tickFormat("")).call(tk);
  g.append("g").attr("transform",`translate(${x(500)},0)`).call(d3.axisRight(y).tickValues(yMinor).tickSize(-4.5).tickFormat("")).call(tk);
  const xb=g.append("g").attr("transform",`translate(0,${bot})`).call(d3.axisBottom(x).tickValues(xTicks).tickSize(-9).tickPadding(12).tickFormat(d3.format("d"))).call(tk);
  g.append("g").attr("transform",`translate(0,${top})`).call(d3.axisTop(x).tickValues(xTicks).tickSize(-9).tickFormat("")).call(tk);
  const yl=g.append("g").attr("transform",`translate(${x(0)},0)`).call(d3.axisLeft(y).tickValues(yTicks).tickSize(-9).tickPadding(8).tickFormat(d3.format("d"))).call(tk);
  g.append("g").attr("transform",`translate(${x(500)},0)`).call(d3.axisRight(y).tickValues(yTicks).tickSize(-9).tickFormat("")).call(tk);
  [xb,yl].forEach(a=>a.selectAll("text").attr("font-family",SERIF).attr("font-weight","bold").attr("font-size",11).attr("fill","#000"));
  g.append("rect").attr("x",x(0)).attr("y",top).attr("width",x(500)-x(0)).attr("height",PH)
    .attr("fill","none").attr("stroke","#222").attr("stroke-width",1.5);
  const yt=g.append("g").attr("transform",`translate(16.5,${top+PH/2}) rotate(-90)`);
  const ytt=rich(yt,[{t:"A"},{t:"V",sub:true},{t:" mag"}],11,SERIF,"bold");
  fit(ytt,0,4,50,"middle");
  return g;
}
const g1=panel(0),g2=panel(1),g3=panel(2);

const line=(y)=>d3.line().x(d=>x(d[0])).y(d=>y(d[1]));
const diamond="M0,-4.6L4.6,0L0,4.6L-4.6,0Z";

// Panel 1
g1.append("g").selectAll("rect").data(panel1Gray).join("rect")
  .attr("x",d=>x(d[0])-1.4).attr("y",d=>yS[0](d[1])-1.4).attr("width",2.8).attr("height",2.8).attr("fill","#a9a9a9");
g1.append("g").selectAll("rect").data(panel1Black).join("rect")
  .attr("x",d=>x(d[0])-1.5).attr("y",d=>yS[0](d[1])-1.5).attr("width",3).attr("height",3).attr("fill","#000");
g1.append("path").attr("d",line(yS[0])(curve1)).attr("fill","none").attr("stroke","#000").attr("stroke-width",5);

// Panel 2
g2.append("g").selectAll("path").data(panel2Pts).join("path")
  .attr("d",diamond).attr("transform",d=>`translate(${x(d[0])},${yS[1](d[1])})`)
  .attr("fill","none").attr("stroke","#000").attr("stroke-width",1.7);
g2.append("path").attr("d",line(yS[1])(curve2)).attr("fill","none").attr("stroke","#000").attr("stroke-width",4.5);
g2.append("path").attr("d",line(yS[1])(curve2Top)).attr("fill","none").attr("stroke","#000").attr("stroke-width",3);
g2.append("path").attr("d",line(yS[1])(vlbaLine)).attr("fill","none").attr("stroke","#000").attr("stroke-width",2).attr("stroke-dasharray","12,7");

// Panel 3
g3.append("g").selectAll("path").data(panel3Pts).join("path")
  .attr("d",diamond).attr("transform",d=>`translate(${x(d[0])},${yS[2](d[1])})`)
  .attr("fill","none").attr("stroke","#000").attr("stroke-width",1.7);
g3.append("path").attr("d",line(yS[2])(curve3)).attr("fill","none").attr("stroke","#000").attr("stroke-width",4.5);
g3.append("path").attr("d",line(yS[2])(curve3Top)).attr("fill","none").attr("stroke","#000").attr("stroke-width",3);
g3.append("path").attr("d",line(yS[2])(curve3Bar)).attr("fill","none").attr("stroke","#000").attr("stroke-width",6);

// Titles
const t1=rich(svg,[{t:titles[0]},{t:"\u03C3",it:true},{t:"JHK",sub:true,ss:0.5},{t:"<0.080 mag"}],15,SERIF,"bold");
const k1=fit(t1,298,tops[0]-6,392,"middle");
const t2=rich(svg,[{t:titles[1]},{t:"\u03C3",it:true},{t:"count",sub:true,ss:0.6},{t:" contour"}],15,SERIF,"bold");
fit(t2,30.4,tops[1]-6,null,"start",k1);
const t3=rich(svg,[{t:titles[2]},{t:"excess",sub:true,ss:0.45},{t:">0.20 mag"}],15,SERIF,"bold");
fit(t3,300,tops[2]-6,426,"middle");

// x title
const xt=rich(svg,[{t:"Distance in pc"}],12,SERIF,"bold");
fit(xt,282,1593,141,"middle");

// annotations
const ann=(txt,x0,y0,w)=>{const t=rich(svg,[{t:txt}],26,"Liberation Serif","normal");fit(t,x0,y0,w,"start");};
ann(labels[0],148,73.3,83);
ann(labels[2],161.7,668,316);
ann(labels[1],198,726.7,100);
ann(labels[3],137,1256.7,100);
</script>
</body></html>
